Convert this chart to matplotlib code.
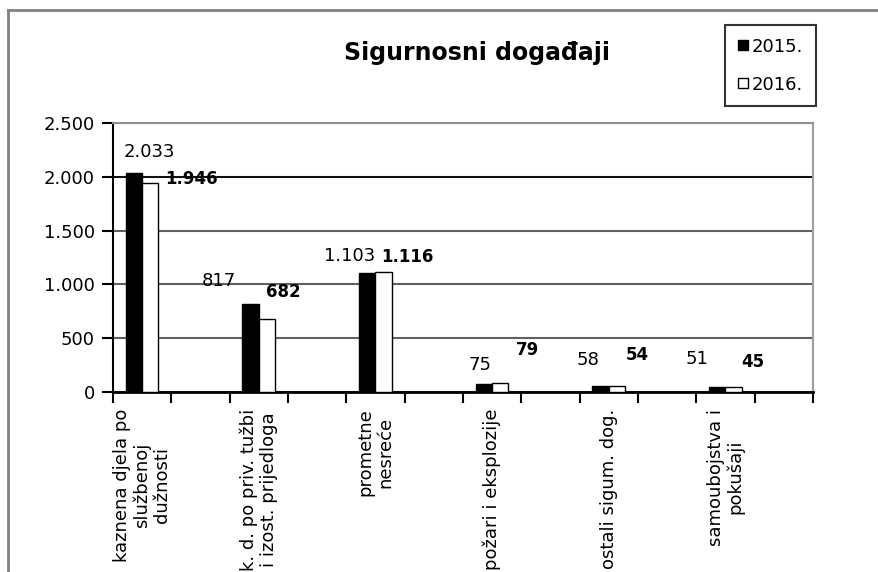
import matplotlib
matplotlib.use("Agg")
import matplotlib.pyplot as plt
from matplotlib.lines import Line2D
from matplotlib.ticker import FuncFormatter, MultipleLocator
import numpy as np

categories = ["kaznena djela po\nslužbenoj\ndužnosti",
              "k. d. po priv. tužbi\ni izost. prijedloga",
              "prometne\nnesreće",
              "požari i eksplozije",
              "ostali sigum. dog.",
              "samoubojstva i\npokušaji"]
v2015 = [2033, 817, 1103, 75, 58, 51]
v2016 = [1946, 682, 1116, 79, 54, 45]

# label offsets from bar tops, in pixels (Excel placed them a bit randomly)
off2015 = [(15, 21), (-32, 23), (-18, 17), (-4, 19), (-13, 26), (-20, 28)]
off2016 = [(41, 4), (16, 27), (24, 15), (27, 33), (20, 31), (19, 25)]

plt.rcParams['font.family'] = ['DejaVu Sans']

def dots(v, pos=None):
    return f"{v:,.0f}".replace(",", ".")

fig = plt.figure(figsize=(8.79, 5.72), dpi=100)
ax = fig.add_axes([113/879, 1-392/572, 700/879, 269/572])

x = np.arange(len(categories)) * 2
w = 0.28
ax.bar(x - w/2, v2015, w, color='black', edgecolor='black', linewidth=1, zorder=3)
ax.bar(x + w/2, v2016, w, color='white', edgecolor='black', linewidth=1, zorder=3)

for i in range(len(x)):
    ax.annotate(dots(v2015[i]), (x[i] - w/2, v2015[i]), xytext=off2015[i],
                textcoords='offset pixels', ha='center', va='center', fontsize=13)
    ax.annotate(dots(v2016[i]), (x[i] + w/2, v2016[i]), xytext=off2016[i],
                textcoords='offset pixels', ha='center', va='center', fontsize=12,
                fontweight='bold')

ax.set_xlim(-0.5, 11.5)
ax.set_ylim(0, 2500)
ax.yaxis.set_major_locator(MultipleLocator(500))
ax.yaxis.set_major_formatter(FuncFormatter(dots))
ax.yaxis.grid(True, color='#606060', linewidth=1.5, zorder=0)
ax.set_axisbelow(True)
ax.axhline(2000, color='black', linewidth=1.2, zorder=1)

ax.set_xticks(x)
ax.set_xticklabels(categories, rotation=90, ha='center', va='top',
                   multialignment='center', fontsize=13, linespacing=1.1)
ax.set_xticks(np.arange(-0.5, 12, 1), minor=True)
ax.tick_params(axis='x', which='major', length=0, pad=12)
ax.tick_params(axis='x', which='minor', length=8, width=1.5, color='black')
ax.tick_params(axis='y', length=8, width=1.5, labelsize=13, pad=5)

ax.spines['left'].set_linewidth(1.5)
ax.spines['bottom'].set_linewidth(2)
ax.spines['top'].set_color('#909090')
ax.spines['top'].set_linewidth(1.5)
ax.spines['right'].set_color('#a0a0a0')
ax.spines['right'].set_linewidth(1.5)

fig.text(477/879, 1-60/572, "Sigurnosni događaji", ha='center', va='baseline',
         fontsize=17, fontweight='bold')

handles = [Line2D([], [], marker='s', linestyle='', markersize=7,
                  markerfacecolor='black', markeredgecolor='black'),
           Line2D([], [], marker='s', linestyle='', markersize=7,
                  markerfacecolor='white', markeredgecolor='black')]
leg = fig.legend(handles, ["2015.", "2016."], loc='upper left',
                 bbox_to_anchor=(725/879, 1-25/572), fontsize=13, frameon=True,
                 fancybox=False, handlelength=0.6, handletextpad=0.2,
                 labelspacing=1.1, borderpad=0.7, borderaxespad=0)
leg.get_frame().set_edgecolor('black')
leg.get_frame().set_linewidth(1.5)

# outer chart border (cut off at right and bottom)
fig.add_artist(Line2D([8/879, 8/879], [0, 1-10/572], color='#808080', linewidth=2))
fig.add_artist(Line2D([8/879, 1], [1-10/572, 1-10/572], color='#808080', linewidth=2))

fig.savefig("out.png", dpi=100)
